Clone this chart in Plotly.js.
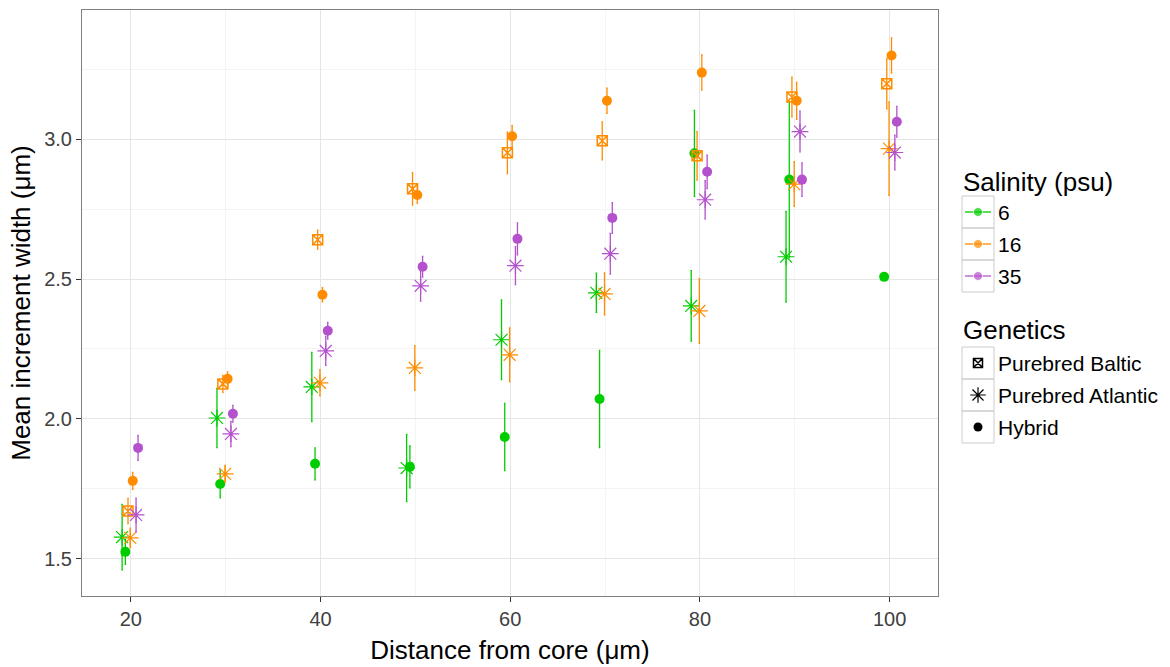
<!DOCTYPE html>
<html>
<head>
<meta charset="utf-8">
<script src="https://cdn.plot.ly/plotly-3.0.1.min.js"></script>
<style>
  html, body { margin: 0; padding: 0; background: #ffffff; }
  #chart { width: 1170px; height: 667px; }
</style>
</head>
<body>
<div id="chart"></div>
<script>
// Distance from the otolith core (µm) at which increments were measured
const distances = [20, 30, 40, 50, 60, 70, 80, 90, 100];

// Legend categories
const salinityLevels = ['6', '16', '35'];
const geneticsLevels = ['Purebred Baltic', 'Purebred Atlantic', 'Hybrid'];

// Mean increment width (µm) and error, one pair per salinity × genetics group
// (null = group not measured at that distance)
const sal6_atlantic_mean  = [1.577, 2.003, 2.114, 1.824, 2.283, 2.451, 2.404, 2.580, null];
const sal6_atlantic_err   = [0.117, 0.106, 0.124, 0.120, 0.143, 0.070, 0.126, 0.162, null];
const sal6_hybrid_mean    = [1.524, 1.767, 1.839, 1.828, 1.935, 2.071, 2.950, 2.856, 2.508];
const sal6_hybrid_err     = [0.045, 0.050, 0.057, 0.075, 0.120, 0.174, 0.154, 0.280, null];
const sal16_baltic_mean   = [1.670, 2.125, 2.641, 2.823, 2.952, 2.995, 2.941, 3.152, 3.199];
const sal16_baltic_err    = [0.045, 0.030, 0.034, 0.058, 0.074, 0.068, 0.087, 0.071, 0.090];
const sal16_atlantic_mean = [1.574, 1.803, 2.129, 2.182, 2.229, 2.447, 2.386, 2.840, 2.967];
const sal16_atlantic_err  = [0.035, 0.030, 0.047, 0.080, 0.096, 0.075, 0.116, 0.080, 0.167];
const sal16_hybrid_mean   = [1.778, 2.143, 2.444, 2.801, 3.011, 3.138, 3.239, 3.138, 3.300];
const sal16_hybrid_err    = [0.030, 0.025, 0.025, 0.030, 0.038, 0.045, 0.063, 0.066, 0.063];
const sal35_atlantic_mean = [1.656, 1.946, 2.243, 2.476, 2.548, 2.591, 2.784, 3.028, 2.953];
const sal35_atlantic_err  = [0.060, 0.045, 0.052, 0.055, 0.068, 0.073, 0.068, 0.073, 0.062];
const sal35_hybrid_mean   = [1.896, 2.018, 2.315, 2.544, 2.644, 2.719, 2.884, 2.856, 3.063];
const sal35_hybrid_err    = [0.045, 0.030, 0.030, 0.037, 0.057, 0.055, 0.060, 0.060, 0.055];

// ---- styling ----
const salinityColors = { '6': '#00CD00', '16': '#FF8C00', '35': '#B452CD' };
const geneticsSymbols = {
  'Purebred Baltic':   { symbol: 'square-x-open', size: 10, lw: 1.5 },
  'Purebred Atlantic': { symbol: 'asterisk-open', size: 14, lw: 1.2 },
  'Hybrid':            { symbol: 'circle',        size: 10, lw: 0 }
};
const FONT = 'Liberation Sans, Arial, sans-serif';

// groups drawn, with a small horizontal dodge so overlapping groups stay readable
const groups = [
  { sal: '6',  gen: 'Purebred Atlantic', mean: sal6_atlantic_mean,  err: sal6_atlantic_err,  dodge: -0.92 },
  { sal: '6',  gen: 'Hybrid',            mean: sal6_hybrid_mean,    err: sal6_hybrid_err,    dodge: -0.58 },
  { sal: '16', gen: 'Purebred Baltic',   mean: sal16_baltic_mean,   err: sal16_baltic_err,   dodge: -0.30 },
  { sal: '16', gen: 'Purebred Atlantic', mean: sal16_atlantic_mean, err: sal16_atlantic_err, dodge: -0.06 },
  { sal: '16', gen: 'Hybrid',            mean: sal16_hybrid_mean,   err: sal16_hybrid_err,   dodge: 0.20 },
  { sal: '35', gen: 'Purebred Atlantic', mean: sal35_atlantic_mean, err: sal35_atlantic_err, dodge: 0.55 },
  { sal: '35', gen: 'Hybrid',            mean: sal35_hybrid_mean,   err: sal35_hybrid_err,   dodge: 0.76 }
];

const traces = groups.map(g => {
  const col = salinityColors[g.sal];
  const s = geneticsSymbols[g.gen];
  return {
    type: 'scatter',
    mode: 'markers',
    name: g.sal + ' psu, ' + g.gen,
    showlegend: false,
    x: distances.map(d => d + g.dodge),
    y: g.mean,
    error_y: { type: 'data', array: g.err, visible: true, color: col, thickness: 1.3, width: 0.8 },
    marker: { symbol: s.symbol, size: s.size, color: col, line: { color: col, width: s.lw } },
    xaxis: 'x', yaxis: 'y'
  };
});

// ---- hand-built legend, laid out in figure pixels on a hidden overlay axis pair ----
const W = 1170, H = 667;
const keyX0 = 962, keyX1 = 994, keyH = 32;
const salTop = 196, genTop = 347;
const shapes = [];
const annotations = [];

annotations.push({ xref: 'x2', yref: 'y2', x: 961, y: salTop - 14, text: 'Salinity (psu)',
  showarrow: false, xanchor: 'left', yanchor: 'middle', font: { family: FONT, size: 26, color: '#000' } });
salinityLevels.forEach((lev, i) => {
  const yc = salTop + keyH * i + keyH / 2;
  shapes.push({ type: 'rect', xref: 'x2', yref: 'y2', x0: keyX0, x1: keyX1, y0: salTop + keyH * i, y1: salTop + keyH * (i + 1),
    line: { color: '#CCCCCC', width: 1 }, fillcolor: 'rgba(0,0,0,0)' });
  traces.push({ type: 'scatter', mode: 'lines+markers', showlegend: false, hoverinfo: 'skip',
    x: [keyX0 + 3, (keyX0 + keyX1) / 2, keyX1 - 3], y: [yc, yc, yc],
    line: { color: salinityColors[lev], width: 1.3 },
    marker: { size: [0, 9, 0], color: salinityColors[lev] },
    xaxis: 'x2', yaxis: 'y2' });
  annotations.push({ xref: 'x2', yref: 'y2', x: keyX1 + 2, y: yc, text: lev, showarrow: false,
    xanchor: 'left', yanchor: 'middle', font: { family: FONT, size: 21, color: '#000' } });
});

annotations.push({ xref: 'x2', yref: 'y2', x: 961, y: genTop - 17, text: 'Genetics',
  showarrow: false, xanchor: 'left', yanchor: 'middle', font: { family: FONT, size: 26, color: '#000' } });
geneticsLevels.forEach((lev, i) => {
  const yc = genTop + keyH * i + keyH / 2;
  const s = geneticsSymbols[lev];
  shapes.push({ type: 'rect', xref: 'x2', yref: 'y2', x0: keyX0, x1: keyX1, y0: genTop + keyH * i, y1: genTop + keyH * (i + 1),
    line: { color: '#CCCCCC', width: 1 }, fillcolor: 'rgba(0,0,0,0)' });
  traces.push({ type: 'scatter', mode: 'markers', showlegend: false, hoverinfo: 'skip',
    x: [(keyX0 + keyX1) / 2], y: [yc],
    marker: { symbol: s.symbol, size: s.size - 1, color: '#000', line: { color: '#000', width: s.lw } },
    xaxis: 'x2', yaxis: 'y2' });
  annotations.push({ xref: 'x2', yref: 'y2', x: keyX1 + 2, y: yc, text: lev, showarrow: false,
    xanchor: 'left', yanchor: 'middle', font: { family: FONT, size: 21, color: '#000' } });
});

const layout = {
  width: W, height: H,
  margin: { l: 0, r: 0, t: 0, b: 0 },
  paper_bgcolor: '#ffffff',
  plot_bgcolor: 'rgba(0,0,0,0)',
  showlegend: false,
  font: { family: FONT, color: '#000' },
  xaxis: {
    domain: [82 / W, 938 / W],
    range: [14.85, 105.1],
    tickvals: [20, 40, 60, 80, 100],
    ticks: 'outside', ticklen: 5, tickcolor: '#333333', tickwidth: 1,
    tickfont: { family: FONT, size: 20, color: '#404040' },
    showgrid: true, gridcolor: '#E5E5E5', gridwidth: 1,
    minor: { tickvals: [30, 50, 70, 90], showgrid: true, gridcolor: '#F4F4F4', gridwidth: 1, ticks: '' },
    showline: true, mirror: true, linecolor: '#7F7F7F', linewidth: 1,
    zeroline: false,
    title: { text: 'Distance from core (μm)', font: { family: FONT, size: 26, color: '#000' }, standoff: 11 },
    anchor: 'y'
  },
  yaxis: {
    domain: [1 - 596 / H, 1 - 10 / H],
    range: [1.366, 3.463],
    tickvals: [1.5, 2.0, 2.5, 3.0],
    ticktext: ['1.5', '2.0', '2.5', '3.0'],
    ticks: 'outside', ticklen: 5, tickcolor: '#333333', tickwidth: 1,
    tickfont: { family: FONT, size: 20, color: '#404040' },
    showgrid: true, gridcolor: '#E5E5E5', gridwidth: 1,
    minor: { tickvals: [1.75, 2.25, 2.75, 3.25], showgrid: true, gridcolor: '#F4F4F4', gridwidth: 1, ticks: '' },
    showline: true, mirror: true, linecolor: '#7F7F7F', linewidth: 1,
    zeroline: false,
    title: { text: 'Mean increment width (μm)', font: { family: FONT, size: 26, color: '#000' }, standoff: 6 },
    anchor: 'x'
  },
  xaxis2: { domain: [0, 1], range: [0, W], visible: false, fixedrange: true, anchor: 'y2' },
  yaxis2: { domain: [0, 1], range: [H, 0], visible: false, fixedrange: true, anchor: 'x2' },
  shapes: shapes,
  annotations: annotations
};

Plotly.newPlot('chart', traces, layout, { staticPlot: true, displayModeBar: false });
</script>
</body>
</html>
